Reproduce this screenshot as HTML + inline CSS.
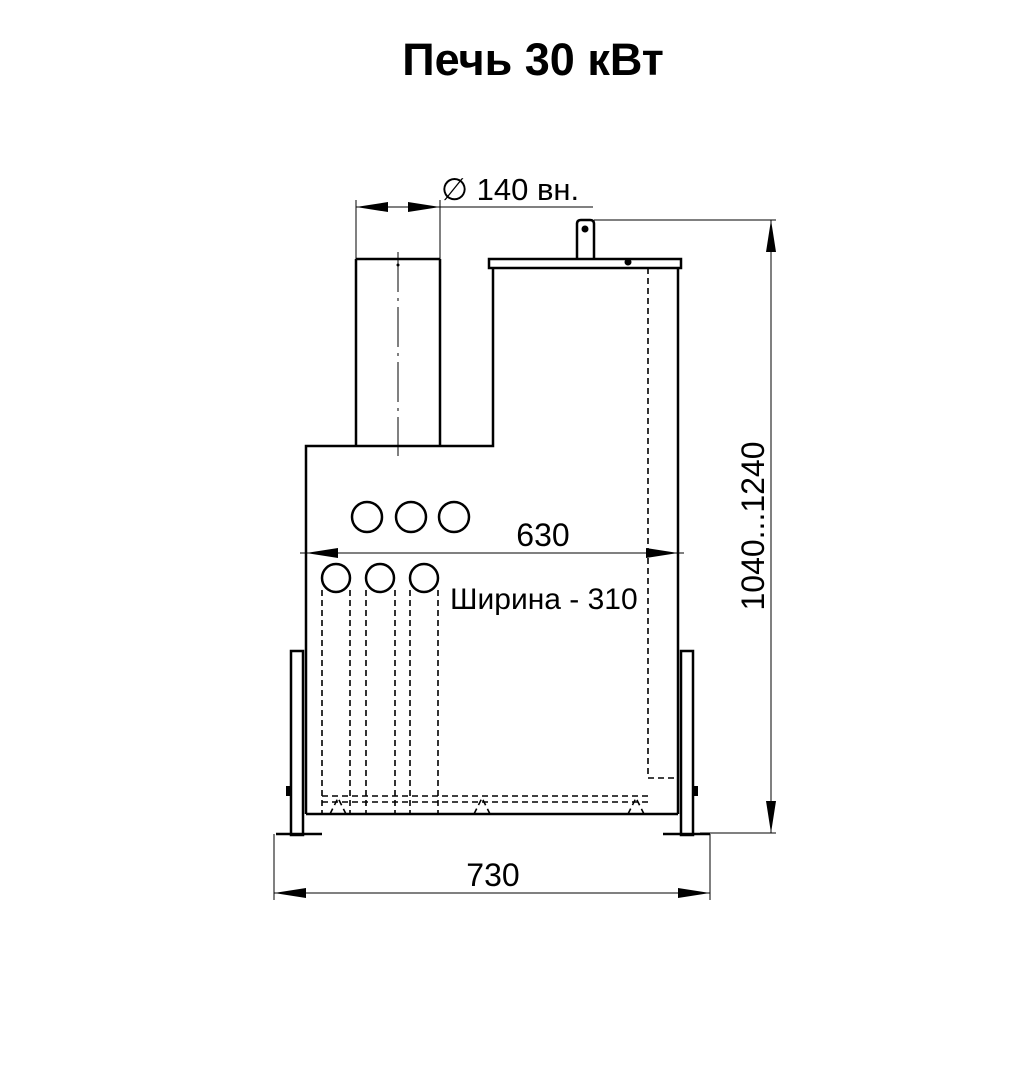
<!DOCTYPE html>
<html><head><meta charset="utf-8"><style>
html,body{margin:0;padding:0;background:#fff;}
svg{display:block;}
text{font-family:"Liberation Sans",sans-serif;fill:#000;}
</style></head><body>
<svg width="1023" height="1073" viewBox="0 0 1023 1073" xmlns="http://www.w3.org/2000/svg">
<text x="533" y="75" font-size="45" font-weight="bold" text-anchor="middle">Печь 30 кВт</text>
<g stroke="#000" fill="none" stroke-width="2.5">
<line x1="356" y1="259" x2="356" y2="446"/>
<line x1="440" y1="259" x2="440" y2="446"/>
<line x1="356" y1="259" x2="440" y2="259"/>
<polyline points="306,814 306,446 493,446 493,268"/>
<line x1="678" y1="268" x2="678" y2="814"/>
<line x1="306" y1="814" x2="678" y2="814"/>
<rect x="489" y="259" width="192" height="9"/>
<path d="M577,259 V224 Q577,220 581,220 H590 Q594,220 594,224 V259"/>
<circle cx="367" cy="517" r="15"/><circle cx="411" cy="517" r="15"/><circle cx="454" cy="517" r="15"/>
<circle cx="336" cy="578" r="14"/><circle cx="380" cy="578" r="14"/><circle cx="424" cy="578" r="14"/>
<rect x="291" y="651" width="12" height="184"/>
<rect x="681" y="651" width="12" height="184"/>
<line x1="276" y1="834" x2="322" y2="834"/>
<line x1="663" y1="834" x2="710" y2="834"/>
</g>
<g fill="#000">
<circle cx="585" cy="229" r="3.5"/><circle cx="628" cy="262" r="3.5"/><circle cx="398" cy="265" r="1.5"/>
<rect x="286" y="786" width="5" height="10"/><rect x="693" y="786" width="5" height="10"/>
</g>
<g stroke="#000" fill="none" stroke-width="1.6" stroke-dasharray="6,4">
<line x1="322" y1="590" x2="322" y2="814"/><line x1="350" y1="590" x2="350" y2="814"/>
<line x1="366" y1="590" x2="366" y2="814"/><line x1="395" y1="590" x2="395" y2="814"/>
<line x1="410" y1="590" x2="410" y2="814"/><line x1="438" y1="590" x2="438" y2="814"/>
<polyline points="648,268 648,778 678,778"/>
<line x1="322" y1="796" x2="648" y2="796"/>
<line x1="322" y1="802" x2="648" y2="802"/>
<polyline points="330,814 338,798 346,814"/>
<polyline points="474,814 482,798 490,814"/>
<polyline points="628,814 636,798 644,814"/>
</g>
<g stroke="#000" stroke-width="1">
<line x1="398" y1="252" x2="398" y2="456" stroke-dasharray="40,6,3,6"/>
<line x1="356" y1="200" x2="356" y2="259"/><line x1="440" y1="200" x2="440" y2="259"/>
<line x1="356" y1="207" x2="593" y2="207"/>
<line x1="594" y1="220" x2="776" y2="220"/><line x1="700" y1="833" x2="776" y2="833"/>
<line x1="771" y1="220" x2="771" y2="833"/>
<line x1="300" y1="553" x2="684" y2="553"/>
<line x1="274" y1="834" x2="274" y2="900"/><line x1="710" y1="834" x2="710" y2="900"/>
<line x1="274" y1="893" x2="710" y2="893"/>
</g>
<g fill="#000">
<polygon points="356,207 388,202 388,212"/><polygon points="440,207 408,202 408,212"/>
<polygon points="771,220 766,252 776,252"/><polygon points="771,833 766,801 776,801"/>
<polygon points="306,553 338,548 338,558"/><polygon points="678,553 646,548 646,558"/>
<polygon points="274,893 306,888 306,898"/><polygon points="710,893 678,888 678,898"/>
</g>
<text x="441" y="200" font-size="31">∅ 140 вн.</text>
<text x="543" y="546" font-size="32" text-anchor="middle">630</text>
<text x="450" y="609" font-size="30">Ширина - 310</text>
<text x="493" y="886" font-size="32" text-anchor="middle">730</text>
<text transform="translate(764,526) rotate(-90)" font-size="32" text-anchor="middle">1040...1240</text>
</svg>
</body></html>
